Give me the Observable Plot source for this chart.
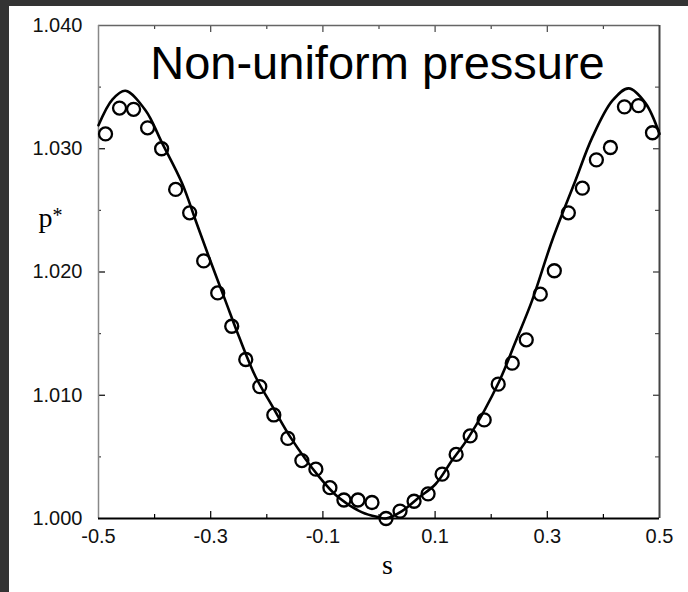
<!DOCTYPE html>
<html><head><meta charset="utf-8">
<script src="https://cdn.jsdelivr.net/npm/d3@7"></script>
<script src="https://cdn.jsdelivr.net/npm/@observablehq/plot@0.6"></script>
<style>
html,body{margin:0;padding:0;background:#333;width:688px;height:592px;overflow:hidden}
#wrap{position:absolute;left:9px;top:6px;width:679px;height:586px;background:#fff}
</style></head><body><div id="wrap"></div>
<script>
const sData = [-0.4875,-0.4625,-0.4375,-0.4125,-0.3875,-0.3625,-0.3375,-0.3125,-0.2875,-0.2625,
  -0.2375,-0.2125,-0.1875,-0.1625,-0.1375,-0.1125,-0.0875,-0.0625,-0.0375,-0.0125,
  0.0125,0.0375,0.0625,0.0875,0.1125,0.1375,0.1625,0.1875,0.2125,0.2375,
  0.2625,0.2875,0.3125,0.3375,0.3625,0.3875,0.4125,0.4375,0.4625,0.4875];
const pData = [1.0312,1.0333,1.0332,1.0317,1.0300,1.0267,1.0248,1.0209,1.0183,1.0156,
  1.0129,1.0107,1.0084,1.0065,1.0047,1.0040,1.0025,1.0015,1.0015,1.0013,
  1.0000,1.0006,1.0014,1.0020,1.0036,1.0052,1.0067,1.0080,1.0109,1.0126,
  1.0145,1.0182,1.0201,1.0248,1.0268,1.0291,1.0301,1.0334,1.0335,1.0313];
const sCurve = [-0.5,-0.475,-0.452,-0.416,-0.387,-0.351,-0.327,-0.303,-0.274,-0.25,-0.22,-0.19,-0.158,
  -0.107,-0.072,-0.03,0.0,0.012,0.041,0.071,0.101,0.13,0.16,0.214,0.243,0.273,0.309,0.35,0.38,0.416,0.445,0.475,0.5];
const pCurve = [1.0319,1.0340,1.0347,1.0331,1.0305,1.0272,1.0242,1.0212,1.0177,1.0148,1.0115,1.0091,1.0066,
  1.0034,1.0017,1.0005,1.0001,1.0000,1.0006,1.0017,1.0028,1.0047,1.0066,1.0111,1.0143,1.0177,1.0226,1.0274,1.0309,1.0339,1.0349,1.0337,1.0312];
const xLabelTicks = [-0.5,-0.3,-0.1,0.1,0.3,0.5];
const xMajorInner = [-0.3,-0.1,0.1,0.3];
const xMinorTicks = [-0.4,-0.2,0,0.2,0.4];
const yLabelTicks = [1.000,1.010,1.020,1.030,1.040];
const yMajorInner = [1.010,1.020,1.030];
const yMinorTicks = [1.005,1.015,1.025,1.035];
const title = "Non-uniform pressure";
const xLabel = "s";
const yLabelBase = "p";
const yLabelSup = "*";

const points = sData.map((s, i) => ({s, p: pData[i]}));
const curve = sCurve.map((s, i) => ({s, p: pCurve[i]}));

const W = 679, H = 586, mL = 89, mR = 29, mT = 19, mB = 74;
const pw = W - mL - mR, ph = H - mT - mB;
const sans = "'Liberation Sans', Arial, Helvetica, sans-serif";
const serif = "'Liberation Serif', 'Times New Roman', serif";

const chart = Plot.plot({
  width: W, height: H, marginLeft: mL, marginRight: mR, marginTop: mT, marginBottom: mB,
  style: {fontFamily: sans, fontSize: "20px", background: "#fff", color: "#000"},
  x: {domain: [-0.5, 0.5]},
  y: {domain: [1.0, 1.04]},
  marks: [
    Plot.axisX(xLabelTicks, {anchor: "bottom", tickSize: 0, tickPadding: 10, label: null, tickFormat: d => d.toFixed(1), fontSize: 20, fill: "#111"}),
    Plot.axisY(yLabelTicks, {anchor: "left", tickSize: 0, tickPadding: 16, label: null, tickFormat: d => d.toFixed(3), fontSize: 20, fill: "#111"}),
    // inward ticks
    Plot.tickX(xMajorInner, {x: d => d, insetTop: ph - 7, stroke: "#000", strokeWidth: 1.2}),
    Plot.tickX(xMinorTicks, {x: d => d, insetTop: ph - 4, stroke: "#000", strokeWidth: 1.2}),
    Plot.tickX(xMajorInner, {x: d => d, insetBottom: ph - 7, stroke: "#444", strokeWidth: 1.2}),
    Plot.tickX(xMinorTicks, {x: d => d, insetBottom: ph - 4, stroke: "#444", strokeWidth: 1.2}),
    Plot.tickY(yMajorInner, {y: d => d, insetRight: pw - 7, stroke: "#000", strokeWidth: 1.2}),
    Plot.tickY(yMinorTicks, {y: d => d, insetRight: pw - 3, stroke: "#444", strokeWidth: 1.2}),
    Plot.tickY(yMajorInner, {y: d => d, insetLeft: pw - 6, stroke: "#333", strokeWidth: 1.2}),
    Plot.tickY(yMinorTicks, {y: d => d, insetLeft: pw - 4, stroke: "#555", strokeWidth: 1.2}),
    // frame
    Plot.ruleY([1.04], {stroke: "#666", strokeWidth: 1.5}),
    Plot.ruleX([-0.5], {stroke: "#888", strokeWidth: 1.5}),
    Plot.ruleX([0.5], {stroke: "#444", strokeWidth: 2}),
    Plot.ruleY([1.0], {stroke: "#000", strokeWidth: 2}),
    // data
    Plot.line(curve, {x: "s", y: "p", curve: "catmull-rom", stroke: "#000", strokeWidth: 2.6}),
    Plot.dot(points, {x: "s", y: "p", r: 6.5, stroke: "#000", strokeWidth: 2.3, fill: "none"}),
    // texts
    Plot.text([title], {text: d => d, frameAnchor: "top", dx: -1.5, dy: 53, lineAnchor: "bottom", fontSize: 47, fontFamily: sans, fill: "#000"}),
    Plot.text([yLabelBase], {text: d => d, frameAnchor: "top-left", dx: -60, dy: 201, textAnchor: "start", lineAnchor: "bottom", fontSize: 28, fontFamily: serif, fill: "#000"}),
    Plot.text([yLabelSup], {text: d => d, frameAnchor: "top-left", dx: -46, dy: 196, textAnchor: "start", lineAnchor: "bottom", fontSize: 20, fontFamily: serif, fill: "#000"}),
    Plot.text([xLabel], {text: d => d, frameAnchor: "bottom", dx: 8.5, dy: 55.7, lineAnchor: "bottom", fontSize: 28, fontFamily: serif, fill: "#000"})
  ]
});
document.getElementById("wrap").appendChild(chart);
</script></body></html>
